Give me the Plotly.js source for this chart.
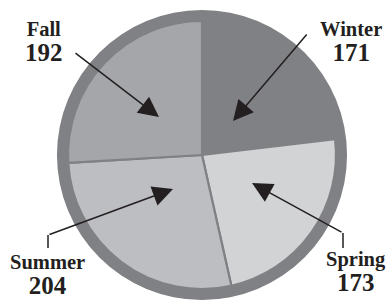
<!DOCTYPE html>
<html>
<head>
<meta charset="utf-8">
<script src="https://cdn.plot.ly/plotly-3.0.1.min.js"></script>
<style>html,body{margin:0;padding:0;background:#fff;}#chart{width:388px;height:301px;}</style>
</head>
<body>
<div id="chart"></div>
<script>
var seasons = ["Winter", "Spring", "Summer", "Fall"];
var counts = [171, 173, 204, 192];
var sliceColors = ["#808184", "#d2d3d5", "#bdbec1", "#a5a6a9"];
var ringColor = "#808184";
var inkColor = "#231f20";

var W = 388, H = 301;
function px(x) { return x / W; }
function py(y) { return 1 - y / H; }

var ring = {
  type: "pie",
  values: [1],
  labels: ["ring"],
  sort: false,
  textinfo: "none",
  hoverinfo: "skip",
  showlegend: false,
  marker: { colors: [ringColor], line: { width: 0 } },
  domain: { x: [px(57), px(347)], y: [py(300), py(10)] }
};

var pie = {
  type: "pie",
  values: counts,
  labels: seasons,
  sort: false,
  direction: "clockwise",
  rotation: 0,
  textinfo: "none",
  hoverinfo: "label+value",
  showlegend: false,
  marker: { colors: sliceColors, line: { color: ringColor, width: 2.2 } },
  domain: { x: [px(68), px(336)], y: [py(289), py(21)] }
};

var fam = "Liberation Serif, Times New Roman, serif";

function label(i, x, y, gap) {
  return {
    text: "<b><span style='font-size:20.5px'>" + seasons[i] + "</span><br><span style='font-size:25px'>" + counts[i] + "</span></b>",
    xref: "paper", yref: "paper", x: px(x), y: py(y),
    xanchor: "center", yanchor: "middle", align: "center", showarrow: false,
    font: { family: fam, size: gap / 1.3, color: inkColor, weight: "bold" }
  };
}
function arrow(tailX, tailY, tipX, tipY) {
  return { text: "", xref: "paper", yref: "paper", x: px(tipX), y: py(tipY),
    ax: tailX - tipX, ay: tailY - tipY, axref: "pixel", ayref: "pixel",
    showarrow: true, arrowhead: 2, arrowsize: 2.7, arrowwidth: 1.5, arrowcolor: inkColor,
    standoff: 0, startstandoff: 0 };
}

var annotations = [
  label(3, 44, 42, 25),
  label(0, 351, 42, 25),
  label(2, 47, 275, 25),
  label(1, 356, 272, 25),
  arrow(74, 52, 159, 117),
  arrow(308, 33, 233, 121),
  arrow(48, 235, 173, 189),
  arrow(343, 233, 252, 183)
];

var shapes = [
  { type: "line", xref: "paper", yref: "paper", x0: px(48), y0: py(235), x1: px(48), y1: py(248),
    line: { color: inkColor, width: 1.5 } },
  { type: "line", xref: "paper", yref: "paper", x0: px(343), y0: py(233), x1: px(343), y1: py(248),
    line: { color: inkColor, width: 1.5 } }
];

var layout = {
  width: W, height: H,
  margin: { l: 0, r: 0, t: 0, b: 0 },
  paper_bgcolor: "#ffffff",
  plot_bgcolor: "#ffffff",
  showlegend: false,
  annotations: annotations,
  shapes: shapes
};

Plotly.newPlot("chart", [ring, pie], layout, { displayModeBar: false, staticPlot: true });
</script>
</body>
</html>
